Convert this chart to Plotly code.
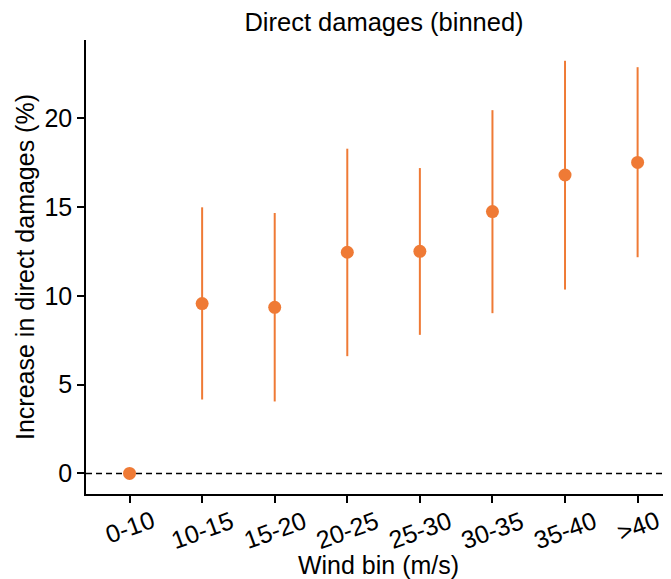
import plotly.graph_objects as go

categories = ["0-10", "10-15", "15-20", "20-25", "25-30", "30-35", "35-40", ">40"]
estimate = [0.0, 9.56, 9.35, 12.45, 12.5, 14.74, 16.8, 17.51]
upper = [0.0, 14.98, 14.66, 18.28, 17.19, 20.45, 23.23, 22.87]
lower = [0.0, 4.16, 4.05, 6.6, 7.8, 9.02, 10.35, 12.17]

err_plus = [u - e for u, e in zip(upper, estimate)]
err_minus = [e - l for e, l in zip(estimate, lower)]

ORANGE = "#EF7A35"
FONT = "Liberation Sans, Arial, Helvetica, sans-serif"
FS = 25

# the page body has an 8px margin; compensate so the plot lands where the reference has it
W, H = 663, 571

fig = go.Figure()
fig.add_trace(go.Scatter(
    x=list(range(len(categories))), y=estimate, mode="markers",
    marker=dict(color=ORANGE, size=13),
    error_y=dict(type="data", symmetric=False, array=err_plus, arrayminus=err_minus,
                 color=ORANGE, thickness=2, width=0),
    showlegend=False,
))

fig.add_hline(y=0, line=dict(color="black", width=1.5, dash="6px,4px"), layer="below")

for i, c in enumerate(categories):
    fig.add_annotation(x=i, y=0, xref="x", yref="paper", text=c, showarrow=False,
                       textangle=-20, yanchor="top", xanchor="center", yshift=-9,
                       font=dict(size=FS, color="black", family=FONT))

fig.update_layout(
    width=W, height=H,
    margin=dict(l=78, r=0, t=32, b=85, autoexpand=False),
    paper_bgcolor="white", plot_bgcolor="white",
    font=dict(family=FONT, size=FS, color="black"),
    title=dict(text="Direct damages (binned)", x=376 / W, xanchor="center", xref="container",
               y=1 - 14 / H, yanchor="middle", yref="container", font=dict(size=FS + 0.5)),
    xaxis=dict(range=[-0.6, 7.46], tickmode="array", tickvals=list(range(len(categories))),
               showticklabels=False, ticks="outside", ticklen=7, tickwidth=1.5, tickcolor="black",
               showline=True, linecolor="black", linewidth=1.5, showgrid=False, zeroline=False,
               automargin=False,
               title=dict(text="Wind bin (m/s)", standoff=55, font=dict(size=FS))),
    yaxis=dict(range=[-1.16, 24.4], tickvals=[0, 5, 10, 15, 20], ticks="outside", ticklen=7,
               tickwidth=1.5, tickcolor="black", showline=True, linecolor="black", linewidth=1.5,
               showgrid=False, zeroline=False, tickfont=dict(size=FS), automargin=False,
               title=dict(text="Increase in direct damages (%)", standoff=3, font=dict(size=FS))),
)

fig.write_html("out.html")
